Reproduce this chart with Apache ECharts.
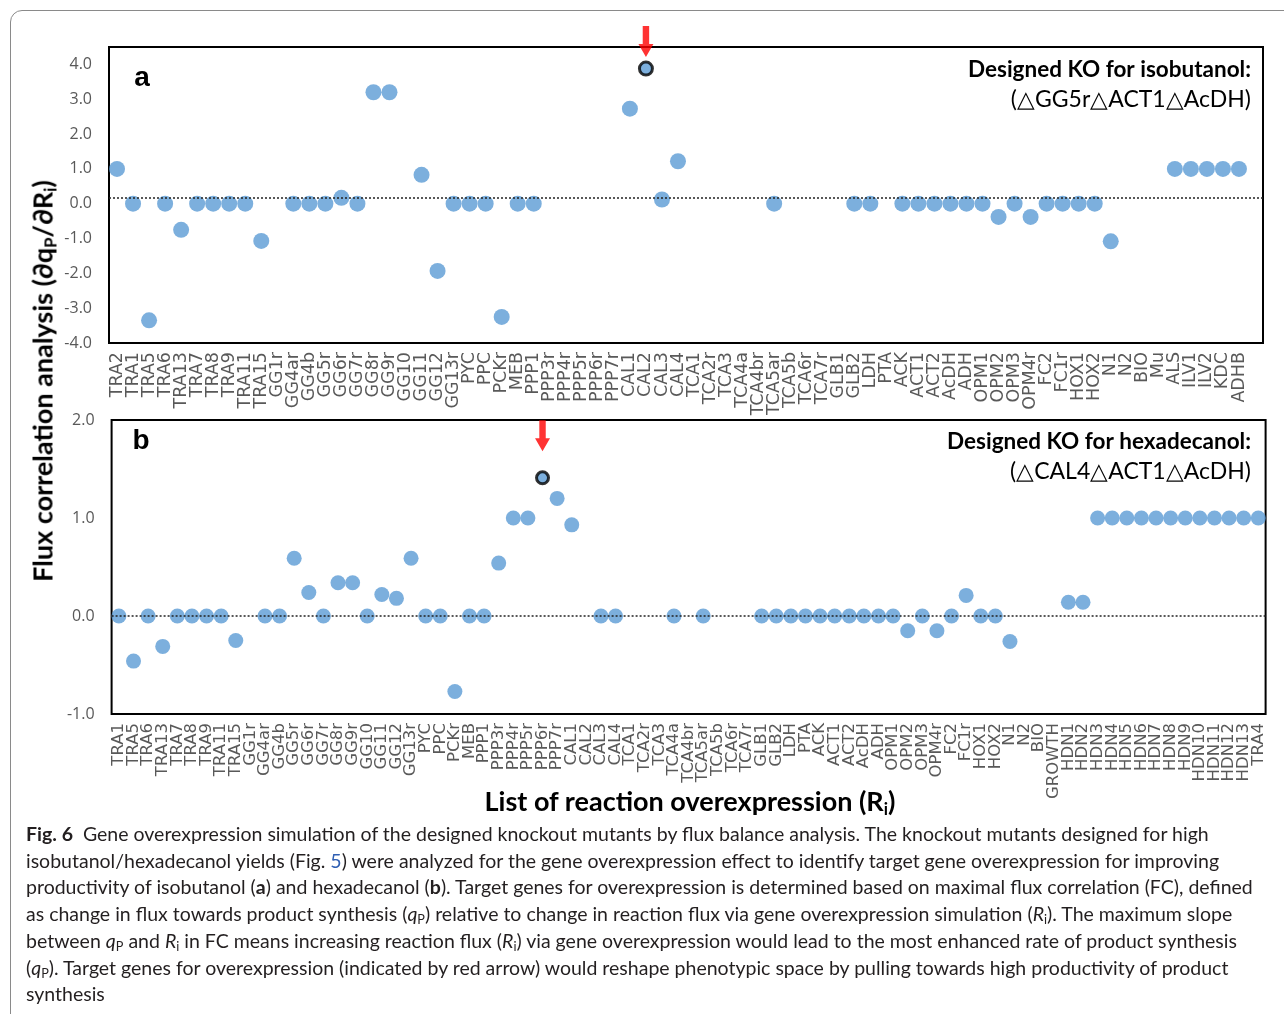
<!DOCTYPE html>
<html>
<head>
<meta charset="utf-8">
<title>Fig. 6 flux correlation</title>
<script src="https://cdn.jsdelivr.net/npm/echarts@6/dist/echarts.min.js"></script>
<style>
  html, body { margin: 0; padding: 0; background: #fff; }
  #wrap { position: relative; width: 1284px; height: 1014px; overflow: hidden; }
  #frame { position: absolute; left: 10px; top: 10px; width: 1400px; height: 1200px;
           border: 1px solid #8a8a8a; border-radius: 12px; }
  #chart { position: absolute; left: 0; top: 0; width: 1284px; height: 1014px; }
  .title { position: absolute; font-family: Lato, "Noto Sans", sans-serif; font-weight: 700;
           color: #000; white-space: nowrap; }
  .title sub { font-size: 0.62em; vertical-align: -0.25em; line-height: 0; }
  #ytitle { left: 42px; top: 381px; font-size: 27px; transform: translate(-50%, -50%) rotate(-90deg); }
  #xtitle { left: 690px; top: 800px; font-size: 27px; transform: translate(-50%, -50%); }
  #caption { position: absolute; left: 26px; top: 821px; font-family: Lato, "Noto Sans", sans-serif;
             font-size: 19.5px; line-height: 26.7px; color: #231f20; white-space: nowrap; }
  #caption sub { font-size: 0.65em; vertical-align: -0.2em; line-height: 0; }
  #caption .lnk { color: #2f5fb3; }
</style>
</head>
<body>
<div id="wrap">
  <div id="frame"></div>
  <div id="chart"></div>
  <div class="title" id="ytitle">Flux correlation analysis (∂q<sub>P</sub>/∂R<sub>i</sub>)</div>
  <div class="title" id="xtitle">List of reaction overexpression (R<sub>i</sub>)</div>
  <div id="caption">
    <b>Fig. 6</b>&nbsp; Gene overexpression simulation of the designed knockout mutants by flux balance analysis. The knockout mutants designed for high<br>
    isobutanol/hexadecanol yields (Fig. <span class="lnk">5</span>) were analyzed for the gene overexpression effect to identify target gene overexpression for improving<br>
    productivity of isobutanol (<b>a</b>) and hexadecanol (<b>b</b>). Target genes for overexpression is determined based on maximal flux correlation (FC), defined<br>
    as change in flux towards product synthesis (<i>q</i><sub>P</sub>) relative to change in reaction flux via gene overexpression simulation (<i>R</i><sub>i</sub>). The maximum slope<br>
    between <i>q</i><sub>P</sub> and <i>R</i><sub>i</sub> in FC means increasing reaction flux (<i>R</i><sub>i</sub>) via gene overexpression would lead to the most enhanced rate of product synthesis<br>
    (<i>q</i><sub>P</sub>). Target genes for overexpression (indicated by red arrow) would reshape phenotypic space by pulling towards high productivity of product<br>
    synthesis
  </div>
</div>
<script>
// panel a: isobutanol knockout
const reactionsA = ['TRA2', 'TRA1', 'TRA5', 'TRA6', 'TRA13', 'TRA7', 'TRA8', 'TRA9', 'TRA11', 'TRA15',
  'GG1r', 'GG4ar', 'GG4b', 'GG5r', 'GG6r', 'GG7r', 'GG8r', 'GG9r', 'GG10', 'GG11', 'GG12', 'GG13r',
  'PYC', 'PPC', 'PCKr', 'MEB', 'PPP1', 'PPP3r', 'PPP4r', 'PPP5r', 'PPP6r', 'PPP7r',
  'CAL1', 'CAL2', 'CAL3', 'CAL4', 'TCA1', 'TCA2r', 'TCA3', 'TCA4a', 'TCA4br', 'TCA5ar', 'TCA5b', 'TCA6r', 'TCA7r',
  'GLB1', 'GLB2', 'LDH', 'PTA', 'ACK', 'ACT1', 'ACT2', 'AcDH', 'ADH', 'OPM1', 'OPM2', 'OPM3', 'OPM4r',
  'FC2', 'FC1r', 'HOX1', 'HOX2', 'N1', 'N2', 'BIO', 'Mu', 'ALS', 'ILV1', 'ILV2', 'KDC', 'ADHB']
const fcA = [1.0, 0, -3.35, 0, -0.75, 0, 0, 0, 0, -1.07,
  null, 0, 0, 0, 0.17, 0, 3.2, 3.2, null, 0.83, -1.93, 0,
  0, 0, -3.25, 0, 0, null, null, null, null, null,
  2.73, 3.88, 0.12, 1.22, null, null, null, null, null, 0, null, null, null,
  null, 0, 0, null, 0, 0, 0, 0, 0, 0, -0.38, 0, -0.38,
  0, 0, 0, 0, -1.08, null, null, null, 1, 1, 1, 1, 1]
const targetA = 'CAL2'
const baselineA = 0.16
const ticksA = { min: -4, max: 4.5, interval: 1 }

// panel b: hexadecanol knockout
const hdn = ['HDN1', 'HDN2', 'HDN3', 'HDN4', 'HDN5', 'HDN6', 'HDN7', 'HDN8', 'HDN9', 'HDN10', 'HDN11', 'HDN12', 'HDN13']
const reactionsB = ['TRA1', 'TRA5', 'TRA6', 'TRA13', 'TRA7', 'TRA8', 'TRA9', 'TRA11', 'TRA15',
  'GG1r', 'GG4ar', 'GG4b', 'GG5r', 'GG6r', 'GG7r', 'GG8r', 'GG9r', 'GG10', 'GG11', 'GG12', 'GG13r',
  'PYC', 'PPC', 'PCKr', 'MEB', 'PPP1', 'PPP3r', 'PPP4r', 'PPP5r', 'PPP6r', 'PPP7r',
  'CAL1', 'CAL2', 'CAL3', 'CAL4', 'TCA1', 'TCA2r', 'TCA3', 'TCA4a', 'TCA4br', 'TCA5ar', 'TCA5b', 'TCA6r', 'TCA7r',
  'GLB1', 'GLB2', 'LDH', 'PTA', 'ACK', 'ACT1', 'ACT2', 'AcDH', 'ADH', 'OPM1', 'OPM2', 'OPM3', 'OPM4r',
  'FC2', 'FC1r', 'HOX1', 'HOX2', 'N1', 'N2', 'BIO', 'GROWTH', ...hdn, 'TRA4']
const fcB = [0, -0.46, 0, -0.31, 0, 0, 0, 0, -0.25,
  null, 0, 0, 0.59, 0.24, 0, 0.34, 0.34, 0, 0.22, 0.18, 0.59,
  0, 0, -0.77, 0, 0, 0.54, 1.0, 1.0, 1.41, 1.2,
  0.93, null, 0, 0, null, null, null, 0, null, 0, null, null, null,
  0, 0, 0, 0, 0, 0, 0, 0, 0, 0, -0.15, 0, -0.15,
  0, 0.21, 0, 0, -0.26, null, null, null,
  0.14, 0.14, 1, 1, 1, 1, 1, 1, 1, 1, 1, 1, 1, 1]
const targetB = 'PPP6r'
const baselineB = 0
const ticksB = { min: -1, max: 2, interval: 1 }

const BLUE = '#5B9BD5'
const GRAY = '#595959'
const ARROW = 'path://M4,0 L10,0 L10,18 L14,18 L7,31 L0,18 L4,18 Z'

const chart = echarts.init(document.getElementById('chart'))

const dots = (cats, vals, target, size) => vals.map((v, i) => {
  if (v === null) return '-'
  if (cats[i] === target) {
    return { value: v, symbolSize: size - 3, itemStyle: { borderColor: '#000', borderWidth: 3 } }
  }
  return v
})
const arrowAt = (cats, vals, target) => vals.map((v, i) => cats[i] === target ? v : '-')

const xAxisFor = (idx, cats, fontSize) => ({
  type: 'category',
  gridIndex: idx,
  data: cats,
  boundaryGap: true,
  axisLine: { show: false },
  axisTick: { show: false },
  splitLine: { show: false },
  axisLabel: {
    interval: 0, rotate: 90, margin: 9,
    color: GRAY, fontFamily: 'DejaVu Sans', fontSize: fontSize
  }
})

const yAxisFor = (idx, t) => ({
  type: 'value',
  gridIndex: idx,
  min: t.min, max: t.max, interval: t.interval,
  axisLine: { show: false },
  axisTick: { show: false },
  splitLine: { show: false },
  axisLabel: {
    margin: 17, color: GRAY, fontFamily: 'Open Sans', fontSize: 16,
    formatter: v => Number.isInteger(v) ? v.toFixed(1) : ''
  }
})

const baseline = y => ({
  silent: true,
  symbol: 'none',
  label: { show: false },
  lineStyle: { color: '#222', width: 1.5, type: [2, 2] },
  data: [{ yAxis: y }]
})

const option = {
  animation: false,
  grid: [
    { left: 109, top: 47, width: 1154, height: 296, show: true, borderColor: '#000', borderWidth: 2, outerBoundsMode: 'none' },
    { left: 111.6, top: 420, width: 1154, height: 294, show: true, borderColor: '#000', borderWidth: 2, outerBoundsMode: 'none' }
  ],
  // panel a has one empty slot after ADHB
  xAxis: [xAxisFor(0, reactionsA.concat(['']), 17.5), xAxisFor(1, reactionsB, 16.5)],
  yAxis: [yAxisFor(0, ticksA), yAxisFor(1, ticksB)],
  series: [
    {
      type: 'scatter', xAxisIndex: 0, yAxisIndex: 0, symbolSize: 16,
      itemStyle: { color: BLUE },
      data: dots(reactionsA, fcA, targetA, 16),
      markLine: baseline(baselineA)
    },
    {
      type: 'scatter', xAxisIndex: 0, yAxisIndex: 0, z: 5,
      symbol: ARROW, symbolSize: [15, 31], symbolOffset: [0, -27],
      itemStyle: { color: '#ff0000' },
      data: arrowAt(reactionsA, fcA, targetA)
    },
    {
      type: 'scatter', xAxisIndex: 1, yAxisIndex: 1, symbolSize: 15,
      itemStyle: { color: BLUE },
      data: dots(reactionsB, fcB, targetB, 15),
      markLine: baseline(baselineB)
    },
    {
      type: 'scatter', xAxisIndex: 1, yAxisIndex: 1, z: 5,
      symbol: ARROW, symbolSize: [15, 31], symbolOffset: [0, -42],
      itemStyle: { color: '#ff0000' },
      data: arrowAt(reactionsB, fcB, targetB)
    }
  ],
  graphic: [
    { type: 'text', x: 142, y: 78, style: { text: 'a', font: 'bold 28px "Liberation Sans"', fill: '#000', textAlign: 'center', textVerticalAlign: 'middle' } },
    { type: 'text', x: 1251, y: 70, style: { text: 'Designed KO for isobutanol:', font: 'bold 22.5px Lato', fill: '#000', textAlign: 'right', textVerticalAlign: 'middle' } },
    { type: 'text', x: 1251, y: 100, style: { text: '(△GG5r△ACT1△AcDH)', font: '23px Lato', fill: '#000', textAlign: 'right', textVerticalAlign: 'middle' } },
    { type: 'text', x: 141, y: 441, style: { text: 'b', font: 'bold 28px "Liberation Sans"', fill: '#000', textAlign: 'center', textVerticalAlign: 'middle' } },
    { type: 'text', x: 1251, y: 442, style: { text: 'Designed KO for hexadecanol:', font: 'bold 22.5px Lato', fill: '#000', textAlign: 'right', textVerticalAlign: 'middle' } },
    { type: 'text', x: 1251, y: 472, style: { text: '(△CAL4△ACT1△AcDH)', font: '23px Lato', fill: '#000', textAlign: 'right', textVerticalAlign: 'middle' } }
  ]
}

chart.setOption(option)
</script>
</body>
</html>
